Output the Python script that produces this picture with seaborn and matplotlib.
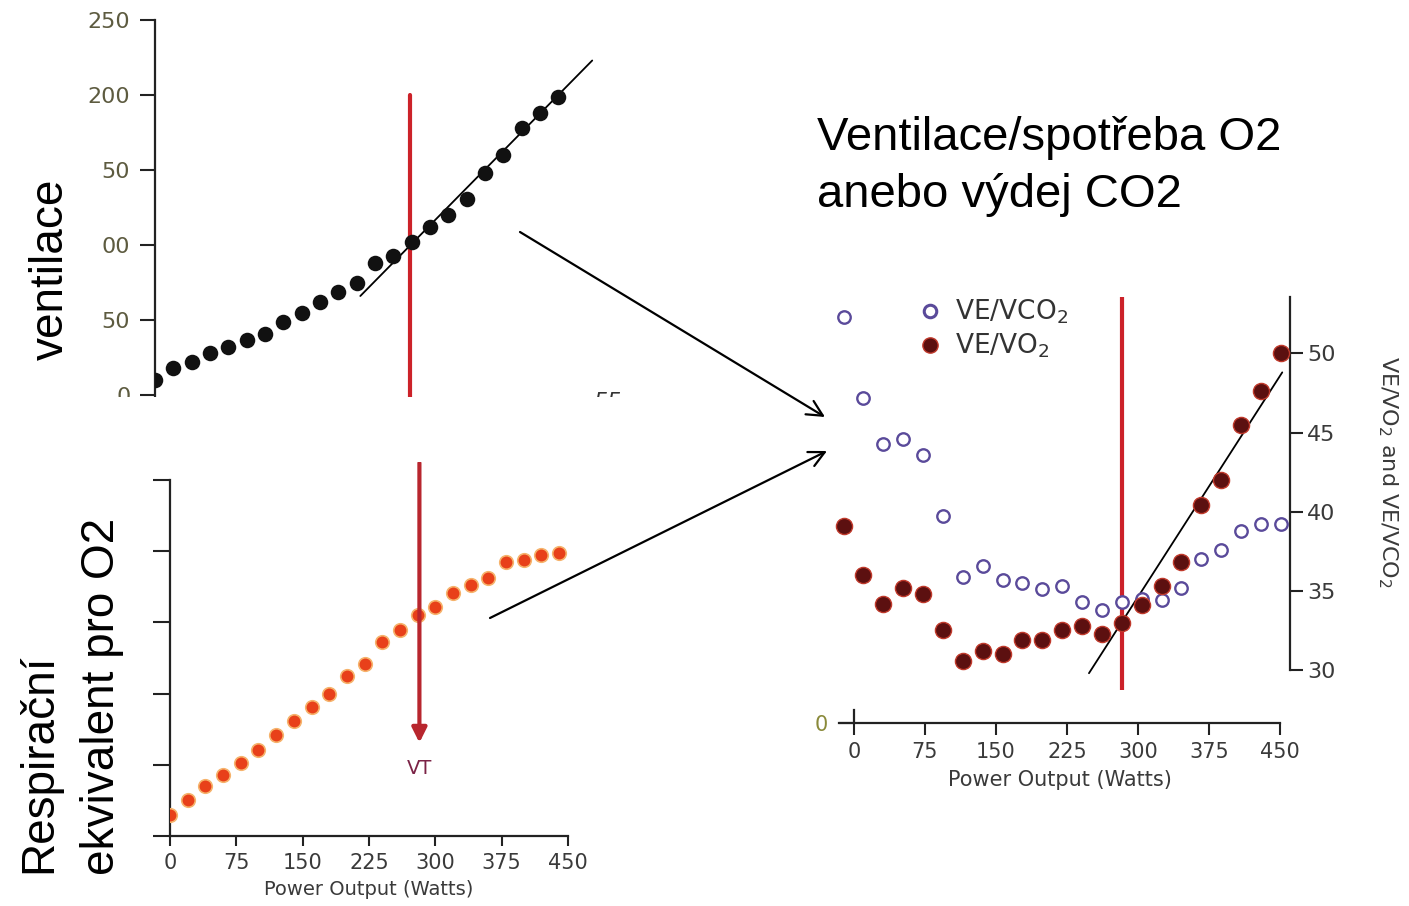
import numpy as np
import pandas as pd
import seaborn as sns
import matplotlib
matplotlib.use("Agg")
import matplotlib.pyplot as plt
from matplotlib.patches import Rectangle, FancyArrowPatch
from matplotlib.lines import Line2D

# ---------------- data ----------------
power = [0, 20, 40, 60, 80, 100, 120, 140, 160, 180, 200, 220,
         240, 260, 280, 300, 320, 340, 360, 380, 400, 420, 440]

# top-left: ventilation
ventilation = [10, 18, 22, 28, 32, 37, 41, 49, 55, 62, 69, 75,
               88, 93, 102, 112, 120, 131, 148, 160, 178, 188, 199]
vent_fit_x = [224, 477]
vent_fit_y = [66, 223]
vent_ticks = [0, 50, 100, 150, 200, 250]
vent_ticklabels = ["0", "50", "00", "50", "200", "250"]
vt_power_top = 278

# bottom-left: respiratory equivalent (arbitrary units, labels cropped)
resp_equiv = [0.29, 0.51, 0.70, 0.86, 1.02, 1.21, 1.42, 1.61, 1.81, 2.00, 2.25, 2.42,
              2.73, 2.90, 3.10, 3.22, 3.41, 3.52, 3.63, 3.85, 3.88, 3.95, 3.98]
resp_yticks = [0, 1, 2, 3, 4, 5]
power_ticks = [0, 75, 150, 225, 300, 375, 450]
vt_power_bottom = 282

# right: VE/VCO2 and VE/VO2
ve_vco2 = [52.3, 47.2, 44.3, 44.6, 43.6, 39.7, 35.9, 36.6, 35.7, 35.5, 35.1, 35.3,
           34.3, 33.8, 34.3, 34.5, 34.4, 35.2, 37.0, 37.6, 38.8, 39.2, 39.2]
ve_vo2 = [39.1, 36.0, 34.2, 35.2, 34.8, 32.5, 30.6, 31.2, 31.0, 31.9, 31.9, 32.5,
          32.8, 32.3, 33.0, 34.1, 35.3, 36.8, 40.4, 42.0, 45.5, 47.6, 50.0]
ve_fit_x = [247, 441.5]
ve_fit_y = [29.8, 48.8]
ve_ticks = [30, 35, 40, 45, 50]
vt_power_right = 280

df = pd.DataFrame({"power": power, "vent": ventilation, "resp": resp_equiv,
                   "vco2": ve_vco2, "vo2": ve_vo2})

# ---------------- figure ----------------
sns.set_theme(style="white")
plt.rcParams["font.family"] = ["DejaVu Sans"]

W, H = 1409, 906
fig = plt.figure(figsize=(W / 100, H / 100), dpi=100)
fig.patch.set_facecolor("white")


def px_axes(x0, y0, x1, y1):
    ax = fig.add_axes([x0 / W, 1 - y1 / H, (x1 - x0) / W, (y1 - y0) / H])
    ax.set_facecolor("none")
    return ax


def fx(x):
    return x / W


def fy(y):
    return 1 - y / H


RED = "#cc2229"
AXC = "#222222"
TICKC = "#3a3a3a"

# ---------- panel 1 : ventilation ----------
ax1 = px_axes(155, 20, 640, 397)
ax1.set_xlim(0, (640 - 155) / 0.9166)
ax1.set_ylim(-1.33, 250)
ax1.plot([vt_power_top, vt_power_top], [-1.33, 200], color=RED, lw=3, zorder=1)
sns.lineplot(x=vent_fit_x, y=vent_fit_y, ax=ax1, color="black", lw=1.3, zorder=2)
sns.scatterplot(data=df, x="power", y="vent", ax=ax1, s=125, color="#111111",
                edgecolor="#111111", linewidth=0, zorder=3, legend=False)
for s in ["top", "right", "bottom"]:
    ax1.spines[s].set_visible(False)
ax1.spines["left"].set_color(AXC)
ax1.spines["left"].set_linewidth(1.6)
ax1.set_yticks(vent_ticks)
ax1.set_yticklabels(vent_ticklabels)
ax1.set_xticks([])
ax1.tick_params(axis="y", direction="out", length=10.8, width=1.5, color=AXC,
                labelsize=16, labelcolor="#5d5b40", pad=7, left=True)
ax1.set_xlabel("")
ax1.set_ylabel("")

# cover the cut-off bottom of the upper picture
fig.text(fx(608), fy(402), "55", fontsize=16, style="italic", color="#333333",
         ha="center", va="center")
fig.add_artist(Rectangle((fx(60), fy(462)), (660 - 60) / W, (462 - 397) / H,
                         transform=fig.transFigure, facecolor="white",
                         edgecolor="none", zorder=5))

# ---------- panel 2 : respiratory equivalent ----------
ax2 = px_axes(170, 480, 568, 836)
ax2.set_xlim(0, 450)
ax2.set_ylim(0, 5)
sns.scatterplot(data=df, x="power", y="resp", ax=ax2, s=95, color="#e8401a",
                edgecolor="#f6b36c", linewidth=1.2, zorder=3, legend=False)
ax2.annotate("", xy=(vt_power_bottom, 1.31), xytext=(vt_power_bottom, 5.24),
             arrowprops=dict(arrowstyle="-|>", color="#b8262e", lw=3,
                             mutation_scale=22, shrinkA=0, shrinkB=0),
             annotation_clip=False, zorder=4)
ax2.text(vt_power_bottom, 0.955, "VT", color="#7b2346", fontsize=14,
         ha="center", va="center")
for s in ["top", "right"]:
    ax2.spines[s].set_visible(False)
for s in ["left", "bottom"]:
    ax2.spines[s].set_color(AXC)
    ax2.spines[s].set_linewidth(1.6)
ax2.set_xticks(power_ticks)
ax2.set_yticks(resp_yticks)
ax2.set_yticklabels([""] * len(resp_yticks))
ax2.tick_params(axis="x", direction="out", length=7.5, width=1.5, color=AXC,
                labelsize=15, labelcolor=TICKC, pad=5, bottom=True)
ax2.tick_params(axis="y", direction="out", length=12, width=1.5, color=AXC, left=True)
ax2.set_xlabel("Power Output (Watts)", fontsize=14, color=TICKC, labelpad=5)
ax2.set_ylabel("")

# ---------- panel 3 : VE/VCO2 and VE/VO2 ----------
ax3 = px_axes(800, 297, 1290, 690)
ax3.set_xlim(-43.8, 449.3)
ax3.set_ylim(28.74, 53.56)
ax3.plot([vt_power_right, vt_power_right], [28.74, 53.56], color=RED, lw=3, zorder=1)
sns.lineplot(x=ve_fit_x, y=ve_fit_y, ax=ax3, color="black", lw=1.3, zorder=2)
sns.scatterplot(data=df, x="power", y="vco2", ax=ax3, s=80, marker="o",
                color="white", edgecolor="#5a4a9a", linewidth=1.7, zorder=3,
                legend=False)
ax3.collections[-1].set_facecolor("white")
sns.scatterplot(data=df, x="power", y="vo2", ax=ax3, s=135, color="#5c1010",
                edgecolor="#c0392b", linewidth=1.0, zorder=4, legend=False)
for s in ["top", "left", "bottom"]:
    ax3.spines[s].set_visible(False)
ax3.spines["right"].set_color(AXC)
ax3.spines["right"].set_linewidth(1.6)
ax3.spines["right"].set_bounds(30, 53.56)
ax3.yaxis.tick_right()
ax3.set_yticks(ve_ticks)
ax3.set_xticks([])
ax3.tick_params(axis="y", direction="out", length=9.5, width=1.5, color=AXC,
                labelsize=16, labelcolor=TICKC, pad=3, right=True, left=False)
ax3.set_xlabel("")
ax3.set_ylabel("")
handles = [Line2D([], [], ls="none", marker="o", ms=9, mfc="white", mec="#5a4a9a", mew=2.2),
           Line2D([], [], ls="none", marker="o", ms=11, mfc="#5c1010", mec="#c0392b", mew=1)]
ax3.legend(handles, ["VE/VCO$_2$", "VE/VO$_2$"], loc="upper left",
           bbox_to_anchor=(fx(917), fy(298)), bbox_transform=fig.transFigure,
           frameon=False, fontsize=19, handlelength=1.0, handletextpad=0.45,
           labelspacing=0.2, borderpad=0, borderaxespad=0,
           labelcolor="#333333")
fig.text(fx(1388), fy(472), "VE/VO$_2$ and VE/VCO$_2$", rotation=270,
         fontsize=16, color=TICKC, ha="center", va="center")

# lower x axis of the right panel
ax4 = px_axes(839, 700, 1280, 723)
ax4.set_xlim(-15.8, 450)
ax4.set_ylim(0, 1)
for s in ["top", "right"]:
    ax4.spines[s].set_visible(False)
ax4.spines["left"].set_position(("data", 0))
ax4.spines["left"].set_bounds(0, 0.57)
for s in ["left", "bottom"]:
    ax4.spines[s].set_color(AXC)
    ax4.spines[s].set_linewidth(1.6)
ax4.set_xticks(power_ticks)
ax4.set_yticks([0])
ax4.set_yticklabels(["0"])
ax4.tick_params(axis="x", direction="out", length=8.6, width=1.5, color=AXC,
                labelsize=15, labelcolor=TICKC, pad=5, bottom=True)
ax4.tick_params(axis="y", direction="out", length=10.8, width=1.5, color=AXC,
                labelsize=15, labelcolor="#8a8a3a", pad=8, left=True)
ax4.set_xlabel("Power Output (Watts)", fontsize=15, color=TICKC, labelpad=6)

# ---------- Czech annotations ----------
TF = ["Liberation Sans", "DejaVu Sans"]
fig.text(fx(817), fy(150), "Ventilace/spotřeba O2", fontsize=34, family=TF,
         ha="left", va="baseline", color="black")
fig.text(fx(817), fy(207), "anebo výdej CO2", fontsize=34, family=TF,
         ha="left", va="baseline", color="black")
fig.text(fx(63), fy(360), "ventilace", fontsize=33, family=TF, rotation=90,
         rotation_mode="anchor", ha="left", va="baseline", color="black")
fig.text(fx(51), fy(873), "Respirační", fontsize=33, family=TF, rotation=90,
         rotation_mode="anchor", ha="left", va="baseline", color="black")
fig.text(fx(114), fy(875), "ekvivalent pro O2", fontsize=33, family=TF, rotation=90,
         rotation_mode="anchor", ha="left", va="baseline", color="black")

# connecting arrows
arrow_kw = dict(arrowstyle="->", color="black", lw=1.6, mutation_scale=28,
                shrinkA=0, shrinkB=0)
fig.add_artist(FancyArrowPatch((fx(520), fy(232)), (fx(825), fy(417)),
                               transform=fig.transFigure, zorder=6, **arrow_kw))
fig.add_artist(FancyArrowPatch((fx(490), fy(618)), (fx(827), fy(451)),
                               transform=fig.transFigure, zorder=6, **arrow_kw))

fig.savefig("out.png", dpi=100, facecolor="white")
